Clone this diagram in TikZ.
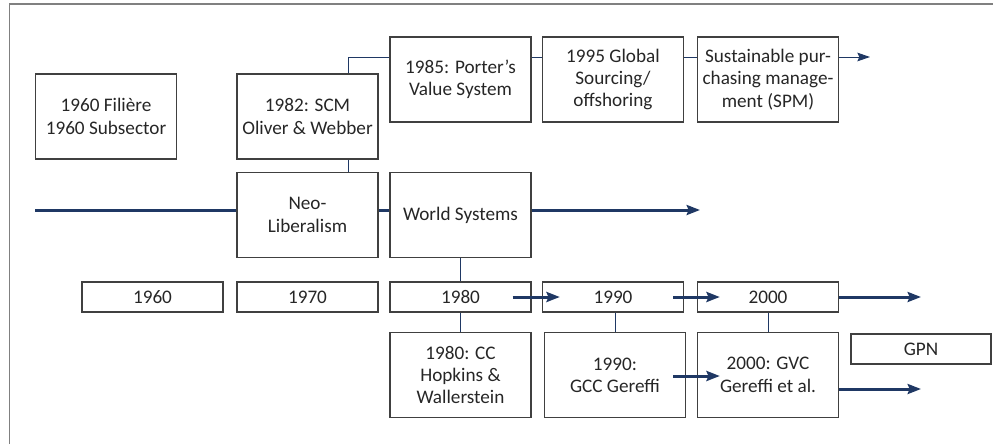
\documentclass[tikz,border=0pt]{standalone}
\usepackage{fontspec}
\setmainfont{Carlito}
\usetikzlibrary{arrows.meta,calc}

\definecolor{navy}{RGB}{31,56,100}
\definecolor{boxgray}{RGB}{64,64,64}
\definecolor{framegray}{RGB}{128,128,128}
\definecolor{txtgray}{RGB}{38,38,38}
\newcommand{\diagfont}{\fontsize{14.4}{16.75}\selectfont}

\tikzset{every picture/.style={line width=0.75pt}}
\tikzset{
  bigbox/.style={draw=boxgray, line width=1pt, minimum width=105.75pt, minimum height=63.75pt,
    inner sep=0pt, align=center, text=txtgray, font=\diagfont},
  yearbox/.style={bigbox, minimum height=22.5pt},
  thinline/.style={draw=navy, line width=0.75pt},
  thickline/.style={draw=navy, line width=2.25pt},
  thinarrow/.style={thinline, -{Stealth[length=9.5pt, width=6.5pt, inset=1.5pt]}},
  thickarrow/.style={thickline, -{Stealth[length=10pt, width=7.5pt, inset=1.5pt]}}
}

\begin{document}
\begin{tikzpicture}[x=0.75pt,y=0.75pt,yscale=-1,xscale=1]
    \useasboundingbox (0,0) rectangle (993,444);
    %Shape: Frame
    \draw [draw=framegray, line width=1.1pt] (9.5,444) -- (9.5,4) -- (993,4) ;
    % Text Node
    \node [bigbox] (filiere) at (106,116.5) {1960 Filière\\1960 Subsector};
    % Text Node
    \node [bigbox] (scm) at (307.5,116.5) {1982: SCM\\Oliver \& Webber};
    % Text Node
    \node [bigbox] (porter) at (460.5,79.5) {1985: Porter’s\\Value System};
    % Text Node
    \node [bigbox] (sourcing) at (613,79.5) {1995 Global\\Sourcing/\\offshoring};
    % Text Node
    \node [bigbox] (spm) at (768,79.5) {Sustainable pur-\\chasing manage-\\ment (SPM)};
    % Text Node
    \node [bigbox] (neolib) at (307.5,215) {Neo-\\Liberalism};
    % Text Node
    \node [bigbox] (world) at (460.5,215) {World Systems};
    % Year boxes
    \node [yearbox] (y1960) at (152.5,297) {1960};
    \node [yearbox] (y1970) at (307.5,297) {1970};
    \node [yearbox] (y1980) at (460.5,297) {1980};
    \node [yearbox] (y1990) at (613,297) {1990};
    \node [yearbox] (y2000) at (768,297) {2000};
    % Text Node
    \node [bigbox] (cc) at (460.5,375) {1980: CC\\Hopkins \&\\Wallerstein};
    % Text Node
    \node [bigbox] (gcc) at (615,375) {1990:\\GCC Gereffi};
    % Text Node
    \node [bigbox] (gvc) at (768,375) {2000: GVC\\Gereffi et al.};
    % Text Node
    \node [yearbox, minimum width=105pt] (gpn) at (921,349) {GPN};

    % free ends
    \coordinate (topline) at (348,57);
    \coordinate (spmend) at (870,57);
    \coordinate (tlstart) at (35,210);
    \coordinate (tlend) at (700,210);
    \coordinate (yearend) at (921,297);
    \coordinate (gvcend) at (921,389);

    % upper branch
    \draw [thinline] (scm.north -| topline) -- (topline) -- (topline -| porter.west) ;
    \draw [thinline] (porter.east |- topline) -- (sourcing.west |- topline) ;
    \draw [thinline] (sourcing.east |- topline) -- (spm.west |- topline) ;
    \draw [thinarrow] (spm.east |- topline) -- (spmend) ;
    \draw [thinline] (scm.south -| topline) -- (neolib.north -| topline) ;
    % main line
    \draw [thickline] (tlstart) -- (neolib.west |- tlstart) ;
    \draw [thickline] (neolib.east |- tlstart) -- (world.west |- tlstart) ;
    \draw [thickarrow] (world.east |- tlstart) -- (tlend) ;
    % years
    \draw [thinline] (world.south) -- (y1980.north) ;
    \draw [thinline] (y1980.south) -- (cc.north) ;
    \draw [thinline] (gcc.north |- y1990.south) -- (gcc.north) ;
    \draw [thinline] (y2000.south) -- (gvc.north) ;
    \draw [thickarrow] ($(y1980.east)+(-19,0)$) -- ($(y1990.west)+(18,0)$) ;
    \draw [thickarrow] ($(y1990.east)+(-11,0)$) -- ($(y2000.west)+(23,0)$) ;
    \draw [thickarrow] (y2000.east) -- (yearend) ;
    \draw [thickarrow] ($(gcc.east)+(-13,1)$) -- ($(gvc.west)+(23,1)$) ;
    \draw [thickarrow] (gvc.east |- gvcend) -- (gvcend) ;
\end{tikzpicture}
\end{document}
